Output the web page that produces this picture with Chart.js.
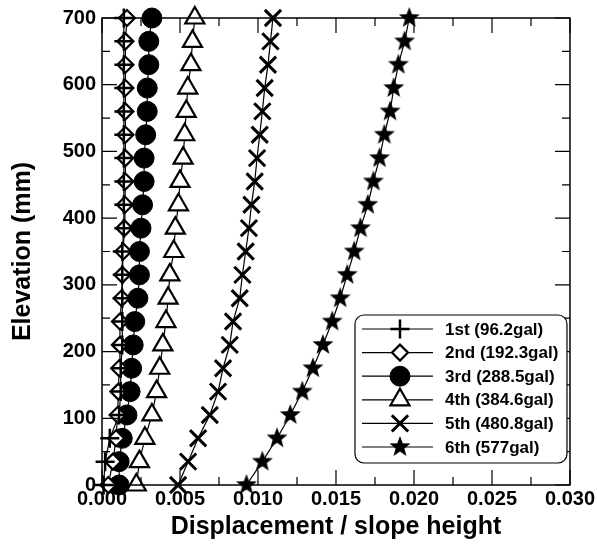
<!DOCTYPE html>
<html>
<head>
<meta charset="utf-8">
<script src="https://cdn.jsdelivr.net/npm/chart.js@4.4.0/dist/chart.umd.min.js"></script>
<style>
html, body { margin: 0; padding: 0; background: #fff; }
#wrap { width: 597px; height: 546px; }
</style>
</head>
<body>
<div id="wrap"><canvas id="chart"></canvas></div>
<script>
// elevation of each measuring point (mm)
const elevation = [0, 35, 70, 105, 140, 175, 210, 245, 280, 315, 350, 385, 420, 455, 490, 525, 560, 595, 630, 665, 700];

const seriesNames = ['1st (96.2gal)', '2nd (192.3gal)', '3rd (288.5gal)', '4th (384.6gal)', '5th (480.8gal)', '6th (577gal)'];

// displacement / slope height
const disp1st = [0.0001, 0.0002, 0.0005, 0.0011, 0.0012, 0.0012, 0.0013, 0.0013, 0.0013, 0.0013, 0.0013, 0.0014, 0.0014, 0.0014, 0.0014, 0.0014, 0.0014, 0.0014, 0.0014, 0.0014, 0.0014];
const disp2nd = [0.0004, 0.0007, 0.0009, 0.0010, 0.00105, 0.0011, 0.00115, 0.00115, 0.00126, 0.0013, 0.00136, 0.00143, 0.00147, 0.0015, 0.0015, 0.0015, 0.0015, 0.0015, 0.0015, 0.0015, 0.0016];
const disp3rd = [0.0011, 0.0011, 0.0013, 0.0016, 0.0018, 0.0019, 0.0020, 0.0021, 0.0023, 0.0024, 0.0024, 0.0025, 0.0026, 0.0027, 0.0027, 0.0028, 0.0029, 0.0029, 0.0030, 0.0030, 0.0032];
const disp4th = [0.0022, 0.0024, 0.00275, 0.0032, 0.0035, 0.0037, 0.0039, 0.0041, 0.00424, 0.00435, 0.0046, 0.0047, 0.0049, 0.0050, 0.0052, 0.0053, 0.0054, 0.0055, 0.0057, 0.0058, 0.00595];
const disp5th = [0.00488, 0.00552, 0.00616, 0.00691, 0.00744, 0.00776, 0.00819, 0.0084, 0.00883, 0.009, 0.00921, 0.00942, 0.00958, 0.00979, 0.00994, 0.01011, 0.01028, 0.01043, 0.01064, 0.0108, 0.01096];
const disp6th = [0.00926, 0.01028, 0.01122, 0.01207, 0.01284, 0.01352, 0.01416, 0.01476, 0.01527, 0.01572, 0.01617, 0.01657, 0.01704, 0.0174, 0.01779, 0.0181, 0.01847, 0.0187, 0.019, 0.0194, 0.0197];

const xMin = 0, xMax = 0.03, xStep = 0.005;
const yMin = 0, yMax = 700, yStep = 100;

function starImage(r) {
    const c = document.createElement('canvas');
    const s = Math.ceil(r * 2 + 4);
    c.width = s; c.height = s;
    const g = c.getContext('2d');
    g.beginPath();
    for (let k = 0; k < 10; k++) {
        const rad = k % 2 ? r * 0.42 : r;
        const a = -Math.PI / 2 + k * Math.PI / 5;
        g.lineTo(s / 2 + rad * Math.cos(a), s / 2 + rad * Math.sin(a));
    }
    g.closePath();
    g.fillStyle = '#000';
    g.fill();
    return c;
}

const pts = arr => arr.map((v, i) => ({ x: v, y: elevation[i] }));

const styles = [
    { pointStyle: 'cross', radius: 9.5, bw: 2.5, bg: '#000' },
    { pointStyle: 'rectRot', radius: 8, bw: 2.2, bg: '#fff' },
    { pointStyle: 'circle', radius: 10, bw: 1, bg: '#000' },
    { pointStyle: 'triangle', radius: 11, bw: 2.2, bg: '#fff' },
    { pointStyle: 'crossRot', radius: 11.5, bw: 3, bg: '#000' },
    { pointStyle: starImage(11), radius: 10, bw: 0, bg: '#000' }
];
const allSeries = [disp1st, disp2nd, disp3rd, disp4th, disp5th, disp6th];

const datasets = allSeries.map((arr, i) => ({
    label: seriesNames[i],
    data: pts(arr),
    showLine: true,
    borderColor: '#000',
    borderWidth: 1.2,
    pointStyle: styles[i].pointStyle,
    pointRadius: styles[i].radius,
    pointHoverRadius: styles[i].radius,
    pointBorderWidth: styles[i].bw,
    pointBorderColor: '#000',
    pointBackgroundColor: styles[i].bg,
    clip: false
}));

// frame around the plot with inward ticks on all four sides
const frameTicks = {
    id: 'frameTicks',
    afterDraw(chart) {
        const { ctx, chartArea: a, scales } = chart;
        ctx.save();
        ctx.strokeStyle = '#000';
        ctx.lineWidth = 1.5;
        ctx.strokeRect(a.left, a.top, a.right - a.left, a.bottom - a.top);
        ctx.lineWidth = 1.2;
        ctx.beginPath();
        for (let v = xMin; v <= xMax + 1e-9; v += xStep / 2) {
            const px = scales.x.getPixelForValue(v);
            const major = Math.abs(v / xStep - Math.round(v / xStep)) < 1e-6;
            const len = major ? 15 : 8;
            ctx.moveTo(px, a.bottom); ctx.lineTo(px, a.bottom - len);
            ctx.moveTo(px, a.top); ctx.lineTo(px, a.top + len);
        }
        for (let v = yMin; v <= yMax; v += yStep / 2) {
            const py = scales.y.getPixelForValue(v);
            const len = v % yStep === 0 ? 15 : 8;
            ctx.moveTo(a.left, py); ctx.lineTo(a.left + len, py);
            ctx.moveTo(a.right, py); ctx.lineTo(a.right - len, py);
        }
        ctx.stroke();
        ctx.restore();
    }
};

// boxed legend inside the plot, lower right
const legendBox = {
    id: 'legendBox',
    afterDraw(chart) {
        const { ctx, chartArea: a } = chart;
        const w = 212, h = 148;
        const x0 = a.right - 215, y0 = a.bottom - 170;
        ctx.save();
        ctx.strokeStyle = '#000';
        ctx.lineWidth = 1.2;
        ctx.fillStyle = '#fff';
        ctx.beginPath();
        ctx.roundRect(x0, y0, w, h, 9);
        ctx.fill();
        ctx.stroke();
        chart.data.datasets.forEach((ds, i) => {
            const y = y0 + 14 + i * 23.6;
            ctx.strokeStyle = '#000';
            ctx.lineWidth = 1.2;
            ctx.beginPath();
            ctx.moveTo(x0 + 7, y); ctx.lineTo(x0 + 78, y);
            ctx.stroke();
            ctx.fillStyle = ds.pointBackgroundColor;
            ctx.strokeStyle = '#000';
            ctx.lineWidth = ds.pointBorderWidth;
            Chart.helpers.drawPoint(ctx, {
                pointStyle: ds.pointStyle, rotation: 0,
                radius: ds.pointRadius, borderWidth: ds.pointBorderWidth
            }, x0 + 45, y);
            ctx.fillStyle = '#000';
            ctx.font = 'bold 17px "Liberation Sans", Arial, sans-serif';
            ctx.textAlign = 'left';
            ctx.textBaseline = 'middle';
            ctx.fillText(ds.label, x0 + 90, y + 1);
        });
        ctx.restore();
    }
};

const tickFont = { family: '"Liberation Sans", Arial, sans-serif', size: 20, weight: 'bold' };
const titleFont = { family: '"Liberation Sans", Arial, sans-serif', size: 25, weight: 'bold' };

new Chart(document.getElementById('chart'), {
    type: 'scatter',
    data: { datasets },
    options: {
        responsive: true,
        maintainAspectRatio: false,
        animation: false,
        layout: { padding: { top: 18, right: 27, left: 0, bottom: 0 } },
        plugins: { legend: { display: false }, tooltip: { enabled: false } },
        scales: {
            x: {
                type: 'linear', min: xMin, max: xMax,
                ticks: { stepSize: xStep, color: '#000', font: tickFont, padding: 2, maxRotation: 0,
                    callback: v => v.toFixed(3) },
                grid: { display: false, drawTicks: false },
                border: { display: false },
                title: { display: true, text: 'Displacement / slope height', color: '#000', font: titleFont,
                    padding: { top: 0, bottom: 4 } },
                afterFit: s => { s.height = 61; }
            },
            y: {
                type: 'linear', min: yMin, max: yMax,
                ticks: { stepSize: yStep, color: '#000', font: tickFont, padding: 6 },
                grid: { display: false, drawTicks: false },
                border: { display: false },
                title: { display: true, text: 'Elevation (mm)', color: '#000', font: titleFont,
                    padding: { top: 8, bottom: 0 } },
                afterFit: s => { s.width = 102; }
            }
        }
    },
    plugins: [frameTicks, legendBox]
});
</script>
</body>
</html>
